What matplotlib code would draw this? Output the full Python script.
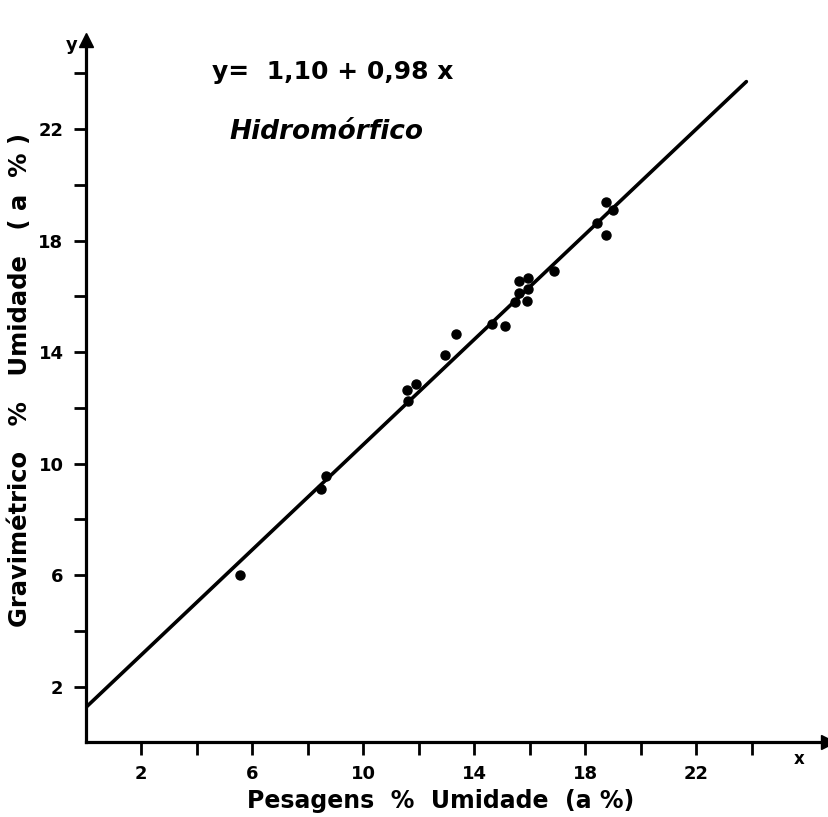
import matplotlib
matplotlib.use("Agg")
import matplotlib.pyplot as plt

pes_x = [18.74, 19.00, 18.42, 18.75, 16.86, 15.60, 15.95, 15.62, 15.93, 15.47, 15.89,
         14.65, 15.09, 13.33, 12.96, 11.91, 11.57, 11.61, 8.67, 8.49, 5.56]
grav_y = [19.39, 19.10, 18.63, 18.19, 16.89, 16.54, 16.64, 16.12, 16.25, 15.80, 15.84,
          14.99, 14.95, 14.66, 13.88, 12.85, 12.65, 12.24, 9.55, 9.08, 6.00]

# regression line as drawn on the figure
fit_x = [0, 23.8]
fit_y = [1.25, 23.7]

major_ticks = [2, 4, 6, 8, 10, 12, 14, 16, 18, 20, 22, 24]
tick_labels = ["2", "", "6", "", "10", "", "14", "", "18", "", "22", ""]

plt.rcParams["font.family"] = "DejaVu Sans"
plt.rcParams["font.weight"] = "bold"

fig = plt.figure(figsize=(8.29, 8.17), dpi=100)
ax = fig.add_axes([0.1034, 0.0913, 0.8957, 0.860])
XMAX, YMAX = 26.75, 25.2
ax.set_xlim(0, XMAX)
ax.set_ylim(0, YMAX)

ax.plot(fit_x, fit_y, color="black", lw=2.6, solid_capstyle="round")
ax.plot(pes_x, grav_y, "o", color="black", ms=6.5)

for s in ["top", "right"]:
    ax.spines[s].set_visible(False)
for s in ["left", "bottom"]:
    ax.spines[s].set_linewidth(2.3)

# arrow heads at the axis ends
ax.plot([XMAX], [0], ">", color="black", ms=10, clip_on=False)
ax.plot([0], [YMAX], "^", color="black", ms=10, clip_on=False)

ax.set_xticks(major_ticks)
ax.set_yticks(major_ticks)
ax.set_xticklabels(tick_labels)
ax.set_yticklabels(tick_labels)
ax.tick_params(direction="out", length=9, width=2, labelsize=13, pad=7)

ax.set_xlabel("Pesagens  %  Umidade  (a %)", fontsize=17, fontweight="bold")
ax.set_ylabel("Gravimétrico   %   Umidade   ( a  % )", fontsize=17.5,
              fontweight="bold")
ax.xaxis.set_label_coords(0.478, -0.066)
ax.yaxis.set_label_coords(-0.073, 0.516)

fig.text(799 / 829, 1 - 759 / 817, "x", fontsize=12, fontweight="bold",
         ha="center", va="center")
fig.text(72 / 829, 1 - 45 / 817, "y", fontsize=13, fontweight="bold",
         ha="center", va="center")
fig.text(333 / 829, 1 - 72 / 817, "y=  1,10 + 0,98 x", fontsize=18,
         fontweight="bold", ha="center", va="center")
fig.text(326 / 829, 1 - 132 / 817, "Hidromórfico", fontsize=19,
         fontweight="bold", style="italic", ha="center", va="center")

fig.savefig("out.png", dpi=100, facecolor="white")
